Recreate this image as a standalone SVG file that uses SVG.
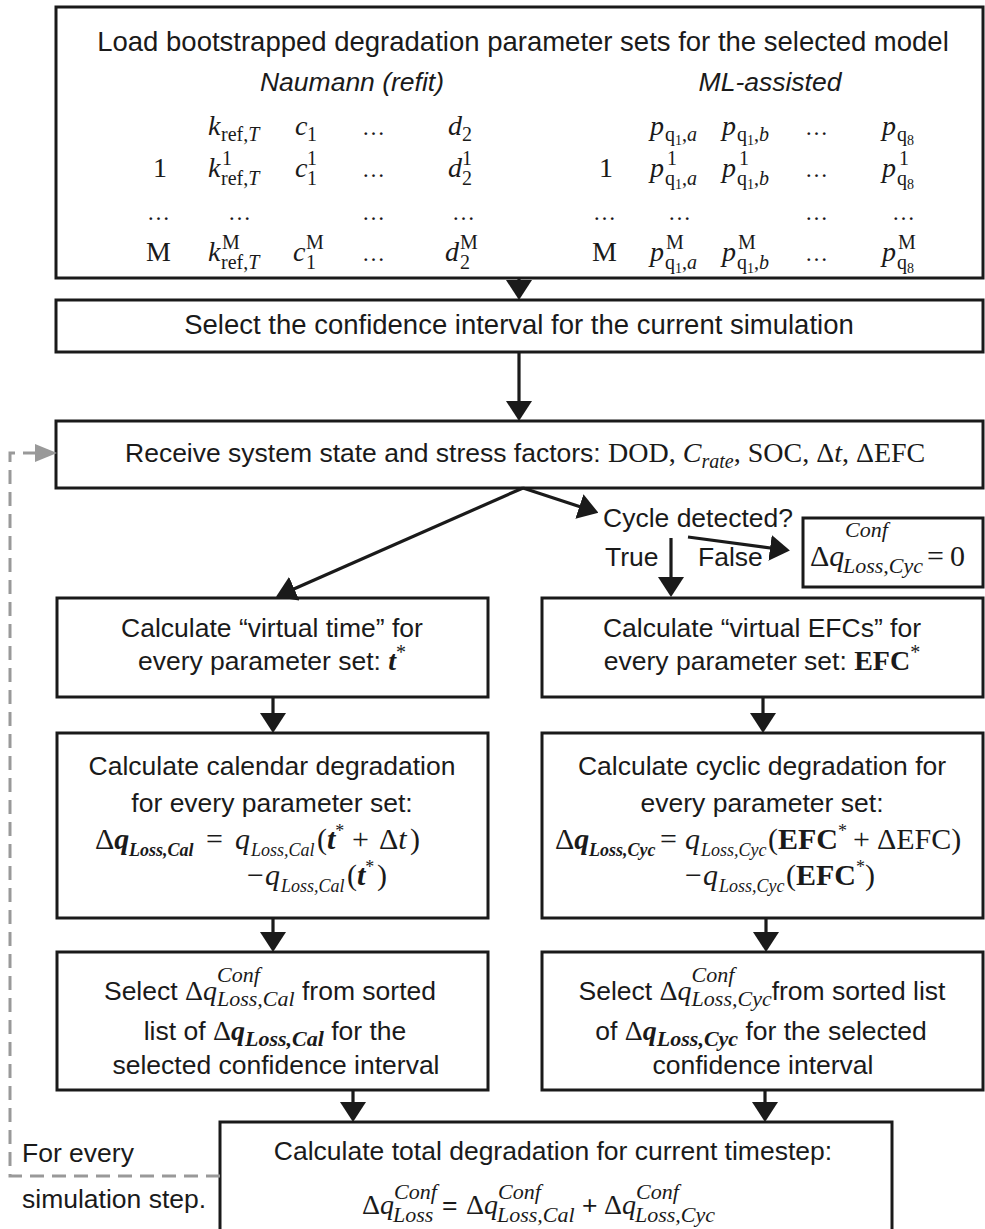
<svg xmlns="http://www.w3.org/2000/svg" width="985" height="1229" viewBox="0 0 985 1229">
<style>
text{fill:#1a1a1a}
.sa{font-family:"Liberation Sans",Arial,sans-serif;font-size:26.5px}
.se{font-family:"Liberation Serif","Times New Roman",serif;font-size:28px}
.m30{font-size:30px}
.i{font-style:italic}
.b{font-weight:bold}
.s{font-size:20px}
.s17{font-size:18px}
.s22{font-size:22px}
.ss{font-size:14px}
.dots{font-size:23px}
.box{fill:#fff;stroke:#1a1a1a;stroke-width:3}
.ln{fill:none;stroke:#1a1a1a;stroke-width:3.2;marker-end:url(#ah)}
.dash{fill:none;stroke:#999;stroke-width:3;stroke-dasharray:14 8;marker-end:url(#ahg)}
.mid{text-anchor:middle}
</style>
<defs>
<marker id="ah" markerUnits="userSpaceOnUse" markerWidth="20" markerHeight="26" viewBox="0 0 20 26" refX="8" refY="13" orient="auto"><path d="M0,0 L20,13 L0,26 z" fill="#1a1a1a"/></marker>
<marker id="ahg" markerUnits="userSpaceOnUse" markerWidth="22" markerHeight="18" viewBox="0 0 22 18" refX="8" refY="9" orient="auto"><path d="M0,0 L22,9 L0,18 z" fill="#999"/></marker>
</defs>
<rect width="985" height="1229" fill="#fff"/>

<g id="n-load">
<rect class="box" x="56" y="7" width="927" height="271"/>
<text class="sa mid" x="523" y="51" style="font-size:27.5px">Load bootstrapped degradation parameter sets for the selected model</text>
<text class="sa i mid" x="352" y="91">Naumann (refit)</text>
<text class="sa i mid" x="770" y="91">ML-assisted</text>
<g>
<text class="se i" x="208" y="135">k</text><text class="se s" x="221" y="141">ref,<tspan class="i">T</tspan></text>
<text class="se i" x="295" y="135">c</text><text class="se s" x="307" y="141">1</text>
<text class="se dots" x="362" y="135">…</text>
<text class="se i" x="448" y="135">d</text><text class="se s" x="462" y="141">2</text>

<text class="se" x="153" y="177">1</text>
<text class="se i" x="208" y="177">k</text><text class="se s" x="222" y="165">1</text><text class="se s" x="221" y="185">ref,<tspan class="i">T</tspan></text>
<text class="se i" x="295" y="177">c</text><text class="se s" x="307" y="165">1</text><text class="se s" x="307" y="185">1</text>
<text class="se dots" x="362" y="177">…</text>
<text class="se i" x="448" y="177">d</text><text class="se s" x="462" y="165">1</text><text class="se s" x="462" y="185">2</text>

<text class="se dots" x="147" y="220">…</text>
<text class="se dots" x="228" y="220">…</text>
<text class="se dots" x="362" y="220">…</text>
<text class="se dots" x="452" y="220">…</text>

<text class="se" x="146" y="261">M</text>
<text class="se i" x="208" y="261">k</text><text class="se s" x="222" y="249">M</text><text class="se s" x="221" y="269">ref,<tspan class="i">T</tspan></text>
<text class="se i" x="293" y="261">c</text><text class="se s" x="306" y="249">M</text><text class="se s" x="306" y="269">1</text>
<text class="se dots" x="362" y="261">…</text>
<text class="se i" x="445" y="261">d</text><text class="se s" x="460" y="249">M</text><text class="se s" x="460" y="269">2</text>
</g>
<g>
<text class="se i" x="650" y="135">p</text><text class="se s" x="665" y="141">q<tspan class="ss" dy="4">1</tspan><tspan dy="-4">,</tspan><tspan class="i">a</tspan></text>
<text class="se i" x="722" y="135">p</text><text class="se s" x="737" y="141">q<tspan class="ss" dy="4">1</tspan><tspan dy="-4">,</tspan><tspan class="i">b</tspan></text>
<text class="se dots" x="805" y="135">…</text>
<text class="se i" x="882" y="135">p</text><text class="se s" x="897" y="141">q<tspan class="ss" dy="4">8</tspan></text>

<text class="se" x="599" y="177">1</text>
<text class="se i" x="650" y="177">p</text><text class="se s" x="667" y="165">1</text><text class="se s" x="665" y="185">q<tspan class="ss" dy="4">1</tspan><tspan dy="-4">,</tspan><tspan class="i">a</tspan></text>
<text class="se i" x="722" y="177">p</text><text class="se s" x="739" y="165">1</text><text class="se s" x="737" y="185">q<tspan class="ss" dy="4">1</tspan><tspan dy="-4">,</tspan><tspan class="i">b</tspan></text>
<text class="se dots" x="805" y="177">…</text>
<text class="se i" x="882" y="177">p</text><text class="se s" x="899" y="165">1</text><text class="se s" x="897" y="185">q<tspan class="ss" dy="4">8</tspan></text>

<text class="se dots" x="593" y="220">…</text>
<text class="se dots" x="668" y="220">…</text>
<text class="se dots" x="805" y="220">…</text>
<text class="se dots" x="892" y="220">…</text>

<text class="se" x="592" y="261">M</text>
<text class="se i" x="650" y="261">p</text><text class="se s" x="666" y="249">M</text><text class="se s" x="665" y="269">q<tspan class="ss" dy="4">1</tspan><tspan dy="-4">,</tspan><tspan class="i">a</tspan></text>
<text class="se i" x="722" y="261">p</text><text class="se s" x="738" y="249">M</text><text class="se s" x="737" y="269">q<tspan class="ss" dy="4">1</tspan><tspan dy="-4">,</tspan><tspan class="i">b</tspan></text>
<text class="se dots" x="805" y="261">…</text>
<text class="se i" x="882" y="261">p</text><text class="se s" x="898" y="249">M</text><text class="se s" x="897" y="269">q<tspan class="ss" dy="4">8</tspan></text>
</g>
</g>

<g id="n-ci">
<rect class="box" x="56" y="300" width="927" height="52"/>
<text class="sa mid" x="519" y="334" style="font-size:27.5px">Select the confidence interval for the current simulation</text>
</g>

<g id="n-receive">
<rect class="box" x="56" y="421" width="927" height="67"/>
<text class="sa" x="125" y="462">Receive system state and stress factors: <tspan class="se">DOD, </tspan><tspan class="se i">C</tspan><tspan class="se i s" dy="6">rate</tspan><tspan class="se" dy="-6">, SOC, Δ</tspan><tspan class="se i">t</tspan><tspan class="se">, ΔEFC</tspan></text>
</g>

<g id="n-cycle">
<text class="sa" x="603" y="527">Cycle detected?</text>
</g>

<g id="n-zero">
<rect class="box" x="803" y="518" width="180" height="69"/>
<text class="se m30" y="566"><tspan x="810">Δ</tspan><tspan class="i">q</tspan><tspan class="i s22" x="845" y="537">Conf</tspan><tspan class="i s22" x="843" y="573">Loss,Cyc</tspan><tspan x="927" y="566">=</tspan><tspan x="950">0</tspan></text>
</g>

<g id="n-vtime">
<rect class="box" x="57" y="598" width="431" height="99"/>
<text class="sa mid" x="272" y="637">Calculate “virtual time” for</text>
<text class="sa mid" x="272" y="670">every parameter set: <tspan class="se i b">t</tspan><tspan class="se s" dy="-11">*</tspan></text>
</g>

<g id="n-vefc">
<rect class="box" x="542" y="598" width="441" height="99"/>
<text class="sa mid" x="762" y="637">Calculate “virtual EFCs” for</text>
<text class="sa mid" x="762" y="670">every parameter set: <tspan class="se b">EFC</tspan><tspan class="se s" dy="-11">*</tspan></text>
</g>

<g id="n-cal">
<rect class="box" x="57" y="733" width="431" height="185"/>
<text class="sa mid" x="272" y="775">Calculate calendar degradation</text>
<text class="sa mid" x="272" y="812">for every parameter set:</text>
<text class="se m30" y="849"><tspan x="95">Δ</tspan><tspan class="i b">q</tspan><tspan class="i b s17" x="129" y="856">Loss,Cal</tspan><tspan x="206" y="849">=</tspan><tspan class="i" x="235">q</tspan><tspan class="i s17" x="251" y="856">Loss,Cal</tspan><tspan x="317" y="849">(</tspan><tspan class="i b">t</tspan><tspan class="s17" dy="-12">*</tspan><tspan x="352" dy="12">+</tspan><tspan x="379">Δ</tspan><tspan class="i">t</tspan><tspan x="410">)</tspan></text>
<text class="se m30" y="885"><tspan x="247">−</tspan><tspan class="i" x="265">q</tspan><tspan class="i s17" x="281" y="892">Loss,Cal</tspan><tspan x="347" y="885">(</tspan><tspan class="i b">t</tspan><tspan class="s17" dy="-12">*</tspan><tspan x="377" dy="12">)</tspan></text>
</g>

<g id="n-cyc">
<rect class="box" x="542" y="733" width="441" height="185"/>
<text class="sa mid" x="762" y="775">Calculate cyclic degradation for</text>
<text class="sa mid" x="762" y="812">every parameter set:</text>
<text class="se m30" y="849"><tspan x="555">Δ</tspan><tspan class="i b">q</tspan><tspan class="i b s17" x="589" y="856">Loss,Cyc</tspan><tspan x="660" y="849">=</tspan><tspan class="i" x="685">q</tspan><tspan class="i s17" x="701" y="856">Loss,Cyc</tspan><tspan x="768" y="849">(</tspan><tspan class="b">EFC</tspan><tspan class="s17" dy="-12">*</tspan><tspan x="853" dy="12">+</tspan><tspan x="877">ΔEFC</tspan><tspan>)</tspan></text>
<text class="se m30" y="885"><tspan x="685">−</tspan><tspan class="i" x="703">q</tspan><tspan class="i s17" x="719" y="892">Loss,Cyc</tspan><tspan x="786" y="885">(</tspan><tspan class="b">EFC</tspan><tspan class="s17" dy="-12">*</tspan><tspan dy="12">)</tspan></text>
</g>

<g id="n-selcal">
<rect class="box" x="57" y="952" width="431" height="138"/>
<text class="sa mid" x="270" y="1000">Select <tspan class="se">Δ</tspan><tspan class="se i">q</tspan><tspan class="se i s22" dy="-18">Conf</tspan><tspan class="se i s22" dx="-42.8" dy="24">Loss,Cal</tspan><tspan dy="-6"> from sorted</tspan></text>
<text class="sa mid" x="275" y="1040">list of  <tspan class="se">Δ</tspan><tspan class="se i b">q</tspan><tspan class="se i b s22" dy="6">Loss,Cal</tspan><tspan dy="-6"> for the</tspan></text>
<text class="sa mid" x="276" y="1074">selected confidence interval</text>
</g>

<g id="n-selcyc">
<rect class="box" x="542" y="952" width="441" height="138"/>
<text class="sa mid" x="762" y="1000">Select <tspan class="se">Δ</tspan><tspan class="se i">q</tspan><tspan class="se i s22" dy="-18">Conf</tspan><tspan class="se i s22" dx="-42.8" dy="24">Loss,Cyc</tspan><tspan dy="-6">from sorted list</tspan></text>
<text class="sa mid" x="761" y="1040">of  <tspan class="se">Δ</tspan><tspan class="se i b">q</tspan><tspan class="se i b s22" dy="6">Loss,Cyc</tspan><tspan dy="-6"> for the selected</tspan></text>
<text class="sa mid" x="763" y="1074">confidence interval</text>
</g>

<g id="n-total">
<rect class="box" x="220" y="1122" width="672" height="120"/>
<text class="sa mid" x="553" y="1160">Calculate total degradation for current timestep:</text>
<text class="se" y="1214"><tspan x="362">Δ</tspan><tspan class="i">q</tspan><tspan class="i s22" x="394" y="1199">Conf</tspan><tspan class="i s22" x="393" y="1222">Loss</tspan><tspan class="sa" x="442" y="1214">=</tspan><tspan x="466">Δ</tspan><tspan class="i">q</tspan><tspan class="i s22" x="498" y="1199">Conf</tspan><tspan class="i s22" x="497" y="1222">Loss,Cal</tspan><tspan class="sa" x="582" y="1214">+</tspan><tspan x="604">Δ</tspan><tspan class="i">q</tspan><tspan class="i s22" x="636" y="1199">Conf</tspan><tspan class="i s22" x="635" y="1222">Loss,Cyc</tspan></text>
</g>

<g id="n-loop-label">
<text class="sa" x="22" y="1162">For every</text>
<text class="sa" x="22" y="1208">simulation step.</text>
</g>

<g id="connectors">
<path class="ln" d="M519,278 V288"/>
<path class="ln" d="M519,352 V409"/>
<path class="ln" d="M523,488 L287,592"/>
<path class="ln" d="M523,488 L587,509"/>
<path class="ln" d="M671,538 V585"/>
<path class="ln" d="M688,537 L778,549"/>
<path class="ln" d="M273,697 V721"/>
<path class="ln" d="M763,697 V721"/>
<path class="ln" d="M273,918 V940"/>
<path class="ln" d="M766,918 V940"/>
<path class="ln" d="M353,1090 V1110"/>
<path class="ln" d="M765,1090 V1110"/>
<path class="dash" d="M220,1176 H10 V453 H43"/>
<text class="sa" x="605" y="566">True</text>
<text class="sa" x="698" y="566">False</text>
</g>
</svg>
